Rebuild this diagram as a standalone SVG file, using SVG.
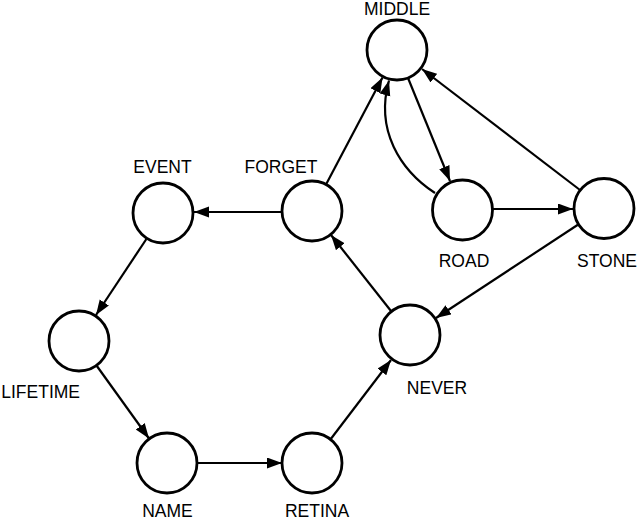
<svg xmlns="http://www.w3.org/2000/svg" width="640" height="521" viewBox="0 0 640 521">
<style>
.node circle{fill:#fff;stroke:#000;stroke-width:2.8}
.node text{font-family:"Liberation Sans",Arial,sans-serif;font-size:17.5px;fill:#000;text-anchor:middle}
#edges path{fill:none;stroke:#000;stroke-width:2.2;marker-end:url(#ah)}
</style>
<defs>
<marker id="ah" markerUnits="userSpaceOnUse" markerWidth="16" markerHeight="12" refX="15" refY="5.5" orient="auto">
<path d="M0,0 L15,5.5 L0,11 Z" fill="#000"/>
</marker>
</defs>
<rect width="640" height="521" fill="#fff"/>
<g id="edges">
<path d="M282,212 L194,212"/>
<path d="M326,184.5 L382.5,77.5"/>
<path d="M408,78 L450,181"/>
<path d="M435,193 C400,170 375,130 389,80.5"/>
<path d="M493,209 L573,209"/>
<path d="M580,190 L422,69"/>
<path d="M579,224 L436,318"/>
<path d="M391,311 L331,235"/>
<path d="M146.4,239 L96,315"/>
<path d="M96.5,365.5 L149,438.5"/>
<path d="M198,463 L282,463"/>
<path d="M330,440 L391,360"/>
</g>
<g id="node-middle" class="node"><circle cx="397" cy="50" r="30"/><text x="397" y="14.5">MIDDLE</text></g>
<g id="node-forget" class="node"><circle cx="312" cy="211" r="30"/><text x="281" y="173">FORGET</text></g>
<g id="node-event" class="node"><circle cx="163" cy="213" r="30"/><text x="162.5" y="173">EVENT</text></g>
<g id="node-lifetime" class="node"><circle cx="79" cy="341" r="30"/><text x="80" y="398" style="text-anchor:end">LIFETIME</text></g>
<g id="node-name" class="node"><circle cx="167" cy="463" r="30"/><text x="167.5" y="517">NAME</text></g>
<g id="node-retina" class="node"><circle cx="312" cy="463" r="30"/><text x="317" y="517">RETINA</text></g>
<g id="node-never" class="node"><circle cx="410" cy="335" r="30"/><text x="437" y="394">NEVER</text></g>
<g id="node-road" class="node"><circle cx="462.5" cy="210" r="30"/><text x="464" y="267">ROAD</text></g>
<g id="node-stone" class="node"><circle cx="604" cy="208.5" r="30"/><text x="607" y="267">STONE</text></g>
</svg>
